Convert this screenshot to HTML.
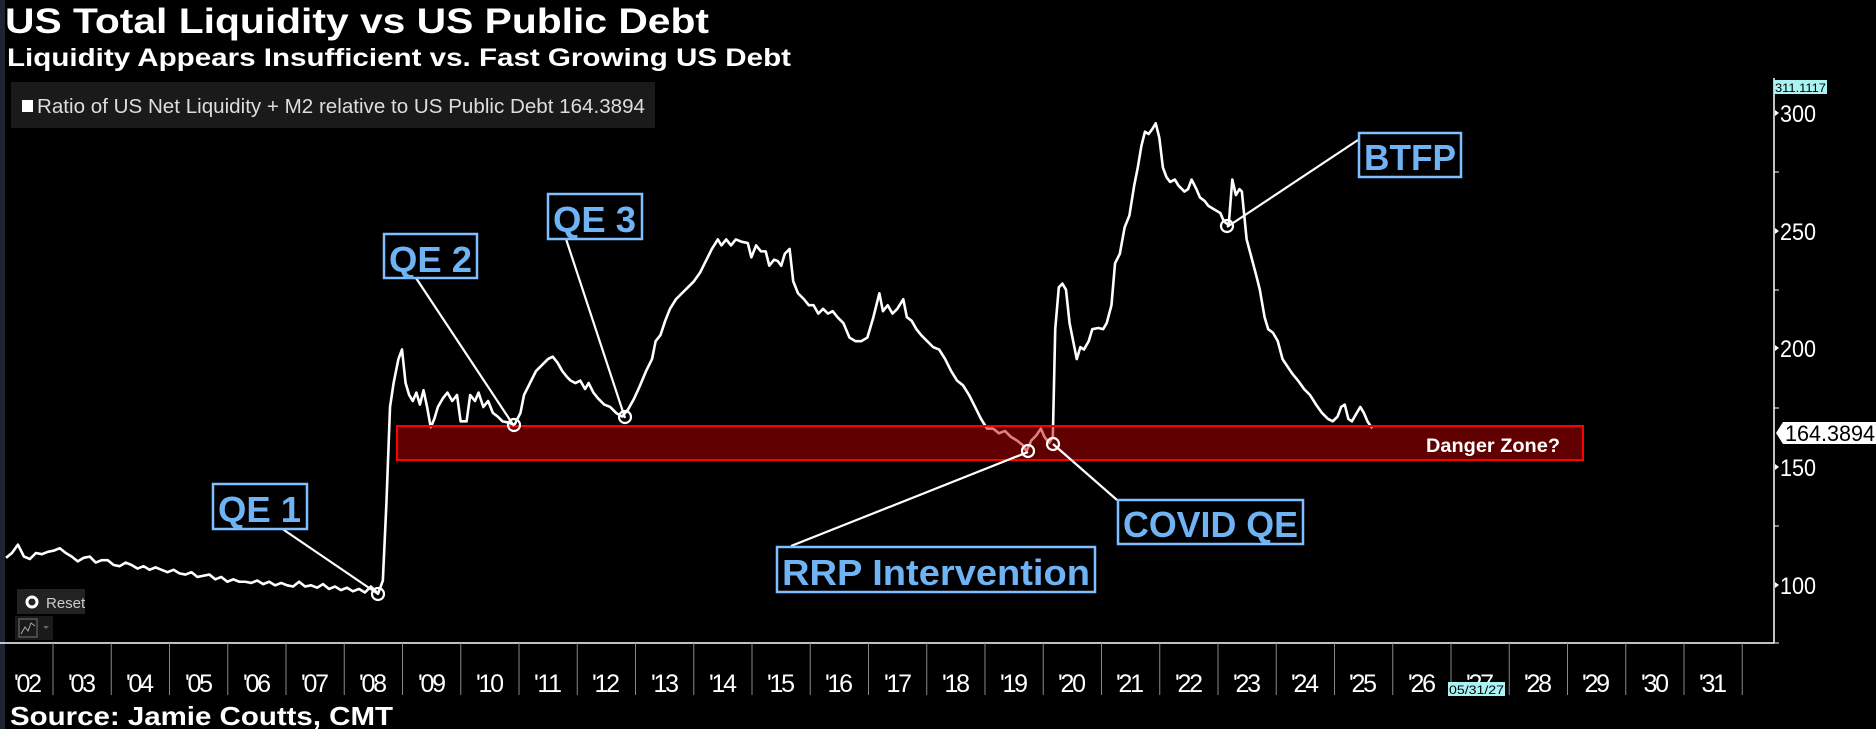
<!DOCTYPE html>
<html><head><meta charset="utf-8"><style>html,body{margin:0;padding:0;background:#000;width:1876px;height:729px;overflow:hidden}</style></head>
<body>
<svg width="1876" height="729" viewBox="0 0 1876 729" xmlns="http://www.w3.org/2000/svg" font-family="Liberation Sans, sans-serif">
<rect width="1876" height="729" fill="#000"/>
<rect x="0" y="0" width="5" height="729" fill="#1c2530"/>
<text x="5" y="33" fill="#fff" font-weight="bold" font-size="35" textLength="704" lengthAdjust="spacingAndGlyphs">US Total Liquidity vs US Public Debt</text>
<text x="7" y="66" fill="#fff" font-weight="bold" font-size="25" textLength="784" lengthAdjust="spacingAndGlyphs">Liquidity Appears Insufficient vs. Fast Growing US Debt</text>
<rect x="11" y="82" width="644" height="46" fill="#1a1a1a"/>
<rect x="22" y="100" width="11" height="12" fill="#fff"/>
<text x="37" y="113" fill="#ddd" font-size="20" textLength="608" lengthAdjust="spacingAndGlyphs">Ratio of US Net Liquidity + M2 relative to US Public Debt 164.3894</text>

<line x1="1774" y1="78" x2="1774" y2="643" stroke="#fff" stroke-width="1.5"/>
<line x1="0" y1="643" x2="1774" y2="643" stroke="#fff" stroke-width="1.5"/>
<g stroke="#fff" stroke-width="1">
<line x1="1774" y1="172" x2="1779" y2="172"/><line x1="1774" y1="290" x2="1779" y2="290"/>
<line x1="1774" y1="408" x2="1779" y2="408"/><line x1="1774" y1="526" x2="1779" y2="526"/>
<line x1="1774" y1="643" x2="1779" y2="643"/>
</g>
<g fill="#fff" font-size="24">
<path d="M1775,110 l4,3 l-4,3z"/><text x="1780" y="122" textLength="36" lengthAdjust="spacingAndGlyphs">300</text>
<path d="M1775,228 l4,3 l-4,3z"/><text x="1780" y="240" textLength="36" lengthAdjust="spacingAndGlyphs">250</text>
<path d="M1775,345 l4,3 l-4,3z"/><text x="1780" y="357" textLength="36" lengthAdjust="spacingAndGlyphs">200</text>
<path d="M1775,464 l4,3 l-4,3z"/><text x="1780" y="476" textLength="36" lengthAdjust="spacingAndGlyphs">150</text>
<path d="M1775,582 l4,3 l-4,3z"/><text x="1780" y="594" textLength="36" lengthAdjust="spacingAndGlyphs">100</text>
</g>
<rect x="1774" y="80" width="53" height="14" fill="#aaf3f3"/>
<text x="1775" y="92" fill="#000" font-size="12" textLength="51" lengthAdjust="spacingAndGlyphs">311.1117</text>
<path d="M1783,422 L1876,422 L1876,444 L1783,444 L1776,433 Z" fill="#fff"/>
<text x="1785" y="441" fill="#000" font-size="22" textLength="90" lengthAdjust="spacingAndGlyphs">164.3894</text>

<g stroke="#888" stroke-width="1">
<line x1="53" y1="643" x2="53" y2="695"/><line x1="111.25" y1="643" x2="111.25" y2="695"/><line x1="169.5" y1="643" x2="169.5" y2="695"/><line x1="227.75" y1="643" x2="227.75" y2="695"/><line x1="286" y1="643" x2="286" y2="695"/><line x1="344.25" y1="643" x2="344.25" y2="695"/><line x1="402.5" y1="643" x2="402.5" y2="695"/><line x1="460.75" y1="643" x2="460.75" y2="695"/><line x1="519" y1="643" x2="519" y2="695"/><line x1="577.25" y1="643" x2="577.25" y2="695"/><line x1="635.5" y1="643" x2="635.5" y2="695"/><line x1="693.75" y1="643" x2="693.75" y2="695"/><line x1="752" y1="643" x2="752" y2="695"/><line x1="810.25" y1="643" x2="810.25" y2="695"/><line x1="868.5" y1="643" x2="868.5" y2="695"/><line x1="926.75" y1="643" x2="926.75" y2="695"/><line x1="985" y1="643" x2="985" y2="695"/><line x1="1043.25" y1="643" x2="1043.25" y2="695"/><line x1="1101.5" y1="643" x2="1101.5" y2="695"/><line x1="1159.75" y1="643" x2="1159.75" y2="695"/><line x1="1218" y1="643" x2="1218" y2="695"/><line x1="1276.25" y1="643" x2="1276.25" y2="695"/><line x1="1334.5" y1="643" x2="1334.5" y2="695"/><line x1="1392.75" y1="643" x2="1392.75" y2="695"/><line x1="1451" y1="643" x2="1451" y2="695"/><line x1="1509.25" y1="643" x2="1509.25" y2="695"/><line x1="1567.5" y1="643" x2="1567.5" y2="695"/><line x1="1625.75" y1="643" x2="1625.75" y2="695"/><line x1="1684" y1="643" x2="1684" y2="695"/><line x1="1742.25" y1="643" x2="1742.25" y2="695"/>
</g>
<g fill="#fff" font-size="25" text-anchor="middle" lengthAdjust="spacingAndGlyphs">
<text x="28" y="692" textLength="28">'02</text><text x="82" y="692" textLength="28">'03</text><text x="140" y="692" textLength="28">'04</text><text x="199" y="692" textLength="28">'05</text><text x="257" y="692" textLength="28">'06</text><text x="315" y="692" textLength="28">'07</text><text x="373" y="692" textLength="28">'08</text><text x="432" y="692" textLength="28">'09</text><text x="490" y="692" textLength="28">'10</text><text x="548" y="692" textLength="28">'11</text><text x="606" y="692" textLength="28">'12</text><text x="665" y="692" textLength="28">'13</text><text x="723" y="692" textLength="28">'14</text><text x="781" y="692" textLength="28">'15</text><text x="839" y="692" textLength="28">'16</text><text x="898" y="692" textLength="28">'17</text><text x="956" y="692" textLength="28">'18</text><text x="1014" y="692" textLength="28">'19</text><text x="1072" y="692" textLength="28">'20</text><text x="1130" y="692" textLength="28">'21</text><text x="1189" y="692" textLength="28">'22</text><text x="1247" y="692" textLength="28">'23</text><text x="1305" y="692" textLength="28">'24</text><text x="1363" y="692" textLength="28">'25</text><text x="1422" y="692" textLength="28">'26</text><text x="1480" y="692" textLength="28">'27</text><text x="1538" y="692" textLength="28">'28</text><text x="1596" y="692" textLength="28">'29</text><text x="1655" y="692" textLength="28">'30</text><text x="1713" y="692" textLength="28">'31</text>
</g>
<rect x="1448" y="682" width="57" height="14" fill="#aaf3f3"/>
<text x="1449" y="694" fill="#000" font-size="12" textLength="55" lengthAdjust="spacingAndGlyphs">05/31/27</text>
<text x="10" y="725" fill="#fff" font-weight="bold" font-size="26" textLength="383" lengthAdjust="spacingAndGlyphs">Source: Jamie Coutts, CMT</text>

<rect x="17" y="589" width="68" height="25" fill="#222"/>
<circle cx="32" cy="602" r="5" fill="none" stroke="#fff" stroke-width="3"/>
<text x="46" y="608" fill="#ccc" font-size="15">Reset</text>
<rect x="15" y="616" width="38" height="24" fill="#1a1a1a"/>
<rect x="19" y="619" width="18" height="18" fill="none" stroke="#777"/>
<polyline points="21,634 25,627 28,631 31,623 35,626" fill="none" stroke="#aaa"/>
<path d="M43,626 l6,0 l-3,3z" fill="#666"/>

<g transform="scale(1.1964,1.197)">
<polyline fill="none" stroke="#fff" stroke-width="2.6" vector-effect="non-scaling-stroke" stroke-linejoin="round" points="5,466 10,462 15,455 20,465 25,467 30,462 35,463 40,461 45,460 50,458 55,462 60,465 65,469 70,466 75,465 80,470 85,468 90,468 95,472 100,473 105,470 110,472 115,475 120,473 125,476 130,474 135,476 140,478 145,476 150,479 155,480 160,478 165,482 170,481 175,480 180,484 185,482 190,486 195,484 200,486 205,486 210,487 215,485 220,488 225,486 230,489 235,487 240,489 245,490 250,486 255,490 260,489 265,491 270,488 275,492 280,490 285,493 290,491 295,494 300,492 305,495 310,490 316,496 320,485 323,420 326,340 329,320 333,300 336,292 339,320 342,330 345,335 348,328 351,338 354,326 357,340 360,357 363,350 366,340 370,333 374,328 378,335 382,330 385,352 390,352 393,330 397,335 400,328 404,340 408,335 412,345 416,348 420,352 425,353 430,355 435,345 438,330 443,320 448,310 453,305 458,300 462,298 466,303 470,310 474,315 477,318 481,320 485,318 489,325 492,320 496,328 500,333 505,338 510,340 515,345 520,348 525,342 530,333 535,322 540,310 545,300 548,285 552,280 556,268 560,258 565,250 570,245 575,240 580,235 585,228 590,218 595,208 600,200 603,205 607,200 611,205 615,200 620,202 625,203 628,215 632,205 636,210 640,210 643,222 647,217 650,218 653,222 656,212 660,208 663,235 667,245 672,250 676,255 680,255 684,262 688,258 692,262 696,260 700,265 705,270 710,282 715,285 720,285 725,282 730,265 735,245 738,260 742,255 746,262 750,258 755,250 758,265 762,268 766,275 770,280 775,285 780,290 785,292 790,300 795,310 800,318 805,322 810,330 815,340 820,350 825,358 830,358 835,362 840,360 845,365 850,368 855,372 858,377 862,368 866,364 870,358 873,365 877,370 880,365 882,275 885,240 888,237 891,242 894,270 897,285 900,300 903,290 906,292 910,285 913,275 918,274 922,275 925,270 929,255 932,220 936,212 940,190 944,180 948,155 951,140 954,122 957,110 960,112 963,108 966,103 969,115 972,140 975,148 978,152 982,150 985,155 990,160 993,158 996,150 1000,158 1003,165 1007,168 1010,172 1015,175 1020,178 1023,185 1027,188 1030,150 1033,163 1036,158 1038,160 1042,200 1046,215 1050,230 1053,242 1057,265 1060,275 1064,278 1068,285 1072,300 1076,306 1080,312 1085,318 1090,325 1095,330 1100,338 1105,345 1110,350 1114,352 1118,348 1121,340 1124,338 1127,350 1130,352 1134,345 1137,340 1140,345 1143,352 1147,358"/>
</g>

<rect x="397" y="426" width="1186" height="34" fill="rgba(192,0,0,0.5)" stroke="#ff0000" stroke-width="2"/>
<text x="1560" y="452" fill="#fff" font-weight="bold" font-size="19" text-anchor="end" textLength="134" lengthAdjust="spacingAndGlyphs">Danger Zone?</text>

<g stroke="#fff" stroke-width="2.2" fill="none">
<line x1="281" y1="528" x2="378" y2="594"/>
<line x1="416" y1="278" x2="514" y2="426"/>
<line x1="566" y1="239" x2="625" y2="418"/>
<line x1="1358" y1="140" x2="1227" y2="227"/>
<line x1="791" y1="546" x2="1028" y2="452"/>
<line x1="1117" y1="500" x2="1053" y2="444"/>
<circle cx="378" cy="594" r="6"/><circle cx="514" cy="425" r="6"/><circle cx="625" cy="417" r="6"/>
<circle cx="1227" cy="226" r="6"/><circle cx="1028" cy="451" r="6"/><circle cx="1053" cy="444" r="6"/>
</g>
<g stroke="#7fbfff" stroke-width="2.5" fill="#000">
<rect x="213" y="484" width="94" height="45"/>
<rect x="384" y="234" width="93" height="44"/>
<rect x="548" y="194" width="94" height="45"/>
<rect x="1359" y="133" width="102" height="44"/>
<rect x="777" y="547" width="318" height="45"/>
<rect x="1118" y="500" width="185" height="44"/>
</g>
<g fill="#6fb3f5" font-weight="bold" font-size="36">
<text x="218" y="522" textLength="83" lengthAdjust="spacingAndGlyphs">QE 1</text>
<text x="389" y="272" textLength="83" lengthAdjust="spacingAndGlyphs">QE 2</text>
<text x="553" y="232" textLength="83" lengthAdjust="spacingAndGlyphs">QE 3</text>
<text x="1364" y="170" textLength="92" lengthAdjust="spacingAndGlyphs">BTFP</text>
<text x="782" y="585" textLength="308" lengthAdjust="spacingAndGlyphs">RRP Intervention</text>
<text x="1123" y="537" textLength="175" lengthAdjust="spacingAndGlyphs">COVID QE</text>
</g>
</svg>
</body></html>
